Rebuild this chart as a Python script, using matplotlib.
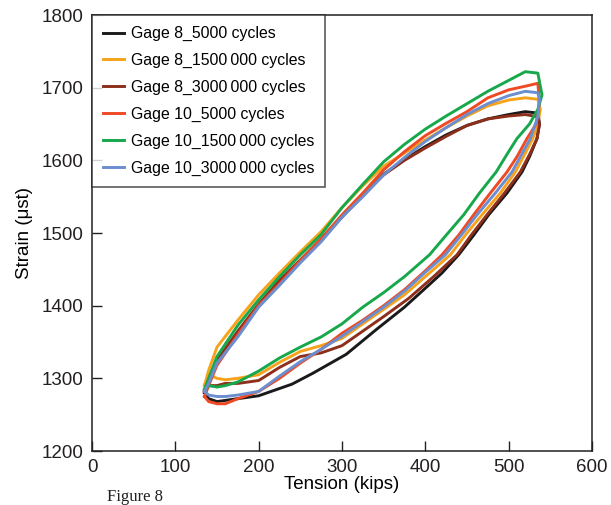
import matplotlib
matplotlib.use("Agg")
import matplotlib.pyplot as plt
import numpy as np

plt.rcParams['font.family'] = ['Liberation Sans', 'DejaVu Sans']

labels = ["Gage 8_5000 cycles", "Gage 8_1500\u2009000 cycles", "Gage 8_3000\u2009000 cycles",
          "Gage 10_5000 cycles", "Gage 10_1500\u2009000 cycles", "Gage 10_3000\u2009000 cycles"]
colors = ["#1a1a1a", "#f7a21b", "#8e2f1c", "#ef4a24", "#17a84b", "#6b8ecf"]

# Loading (upper) branch: common tension grid (kips)
up_x = [135, 140, 150, 175, 200, 225, 250, 275, 300, 325, 350, 375, 400, 425, 450, 475, 500, 520, 535]
up_black = [1280, 1295, 1322, 1362, 1400, 1432, 1461, 1490, 1522, 1552, 1581, 1601, 1619, 1635, 1648, 1657, 1663, 1667, 1665]
up_orange = [1290, 1311, 1343, 1380, 1415, 1445, 1474, 1502, 1535, 1565, 1592, 1610, 1628, 1645, 1661, 1675, 1683, 1686, 1684]
up_brown = [1283, 1298, 1325, 1365, 1402, 1435, 1463, 1492, 1523, 1552, 1580, 1600, 1617, 1633, 1648, 1657, 1661, 1663, 1660]
up_red = [1275, 1290, 1318, 1360, 1400, 1430, 1462, 1492, 1525, 1555, 1587, 1612, 1634, 1651, 1667, 1686, 1697, 1702, 1706]
up_green = [1285, 1300, 1330, 1373, 1408, 1440, 1470, 1498, 1535, 1567, 1598, 1622, 1643, 1661, 1678, 1695, 1710, 1722, 1720]
up_blue = [1282, 1293, 1321, 1357, 1398, 1428, 1459, 1488, 1522, 1550, 1580, 1604, 1626, 1645, 1663, 1678, 1689, 1695, 1693]

# Unloading (lower) branch, from the peak back to the minimum
dn_black_x = [537, 534, 525, 516, 498, 476, 458, 440, 420, 400, 375, 341, 305, 265, 240, 200, 175, 150, 140, 135]
dn_black_y = [1650, 1630, 1605, 1584, 1555, 1525, 1497, 1470, 1445, 1424, 1398, 1367, 1333, 1307, 1292, 1276, 1272, 1268, 1272, 1280]
dn_orange_x = [538, 535, 529, 520, 508, 490, 468, 450, 430, 400, 375, 350, 325, 300, 275, 250, 225, 200, 175, 160, 150, 140, 135]
dn_orange_y = [1670, 1650, 1630, 1610, 1584, 1555, 1525, 1500, 1470, 1440, 1415, 1395, 1375, 1355, 1345, 1337, 1322, 1305, 1300, 1298, 1300, 1305, 1290]
dn_brown_x = [537, 534, 525, 514, 495, 474, 455, 438, 410, 380, 350, 325, 300, 275, 250, 225, 200, 175, 160, 150, 140, 135]
dn_brown_y = [1650, 1630, 1608, 1584, 1555, 1525, 1497, 1470, 1440, 1410, 1385, 1365, 1345, 1335, 1330, 1315, 1297, 1293, 1293, 1290, 1290, 1283]
dn_red_x = [537, 533, 522, 510, 498, 478, 458, 440, 420, 400, 375, 350, 325, 300, 275, 250, 225, 200, 175, 160, 150, 140, 135]
dn_red_y = [1680, 1650, 1630, 1605, 1584, 1555, 1525, 1497, 1470, 1448, 1422, 1400, 1380, 1362, 1340, 1321, 1300, 1282, 1272, 1265, 1265, 1268, 1275]
dn_green_x = [540, 535, 525, 510, 500, 485, 465, 446, 425, 405, 375, 350, 325, 300, 275, 250, 225, 200, 175, 160, 150, 140, 135]
dn_green_y = [1690, 1670, 1650, 1630, 1612, 1584, 1555, 1525, 1497, 1470, 1440, 1418, 1398, 1375, 1357, 1343, 1328, 1310, 1295, 1290, 1288, 1290, 1285]
dn_blue_x = [537, 535, 526, 515, 504, 484, 462, 443, 424, 400, 375, 350, 325, 300, 275, 250, 225, 200, 175, 160, 150, 140, 135]
dn_blue_y = [1685, 1660, 1630, 1607, 1584, 1555, 1525, 1497, 1470, 1446, 1420, 1398, 1378, 1358, 1340, 1323, 1303, 1282, 1277, 1275, 1275, 1277, 1282]

ups = [up_black, up_orange, up_brown, up_red, up_green, up_blue]
dns = [(dn_black_x, dn_black_y), (dn_orange_x, dn_orange_y), (dn_brown_x, dn_brown_y),
       (dn_red_x, dn_red_y), (dn_green_x, dn_green_y), (dn_blue_x, dn_blue_y)]

fig = plt.figure(figsize=(6.11, 5.05), dpi=100)
ax = fig.add_axes([92/611, 1 - 451/505, 500/611, 436/505])

for lab, col, uy, (dx, dy) in zip(labels, colors, ups, dns):
    xs = list(up_x) + list(dx)
    ys = list(uy) + list(dy)
    ax.plot(xs, ys, color=col, lw=2.1, label=lab, solid_joinstyle='round')

ax.set_xlim(0, 600)
ax.set_ylim(1200, 1800)
ax.set_xticks(range(0, 601, 100))
ax.set_yticks(range(1200, 1801, 100))
ax.tick_params(direction='in', length=7, width=1.0, labelsize=13.5, colors='#231f20',
               top=False, right=False, pad=6)
for s in ax.spines.values():
    s.set_linewidth(1.1)
    s.set_color('#231f20')
ax.set_xlabel("Tension (kips)", fontsize=13.5, labelpad=0)
ax.set_ylabel("Strain (\u03bcst)", fontsize=13.5, labelpad=6)

leg = ax.legend(loc='upper left', bbox_to_anchor=(0, 1), borderaxespad=0, fontsize=11.4,
                frameon=True, fancybox=False, edgecolor='#231f20', handlelength=1.3,
                handletextpad=0.45, labelspacing=0.74, borderpad=0.7)
leg.get_frame().set_linewidth(1.1)

fig.text(107/611, 1 - 501/505, "Figure 8", family=['Liberation Serif'], fontsize=12,
         va='baseline', ha='left', color='#231f20')

fig.savefig("out.png", dpi=100)
